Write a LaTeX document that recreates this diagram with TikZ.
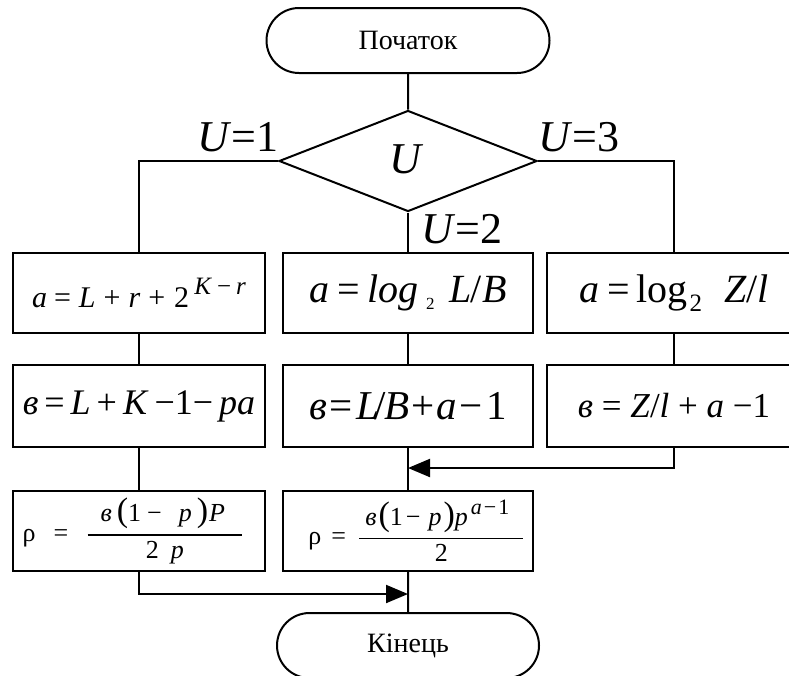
\documentclass[tikz,border=0pt]{standalone}
\usepackage{amsmath}
\usepackage{fontspec}
\setmainfont{Liberation Serif}
\usetikzlibrary{arrows.meta,shapes.geometric,shapes.misc}
\newcommand{\fs}[1]{\fontsize{#1}{#1}\selectfont}
\tikzset{
  box/.style={draw, line width=2pt, minimum width=252pt, minimum height=80pt, inner sep=0pt},
  term/.style={draw, line width=2pt, rounded rectangle, minimum width=283pt, minimum height=65pt, inner sep=0pt, font=\fs{28}},
  conn/.style={line width=2pt},
  arr/.style={conn, -{Triangle[length=22pt,width=18pt]}},
  lbl/.style={inner sep=0pt, anchor=base, font=\fs{44}},
}
\begin{document}
\begin{tikzpicture}[x=1pt,y=-1pt]
\path[use as bounding box] (0,0) rectangle (789,675);
\clip (0,0) rectangle (789,675);
% nodes
\node[term] (start) at (408,40.5) {Початок};
\node[draw, line width=2pt, diamond, minimum width=258pt, minimum height=101pt, inner sep=0pt, aspect=2.55] (dec) at (408,161) {};
\node[lbl] (u) at (407,173) {\textit{U}};
\node[box] (b11) at (139,293) {\fs{30}\textit{a}\hspace{7pt}=\hspace{8pt}\textit{L}\hspace{8pt}+\hspace{8pt}\textit{r}\hspace{8pt}+\hspace{9pt}2\hspace{5pt}\raisebox{13pt}{\fs{25}\textit{K}\hspace{5pt}−\hspace{5pt}\textit{r}}};
\node[box, minimum width=250pt] (b12) at (408,293) {\fs{40}\textit{a}\hspace{8pt}=\hspace{7pt}\textit{log}\hspace{8pt}\raisebox{-7pt}{\fs{17}2}\hspace{15pt}\textit{L}\kern-1pt/\textit{B}};
\node[box, minimum width=254pt] (b13) at (674,293) {\fs{40}\textit{a}\hspace{8pt}=\hspace{7pt}log\hspace{2pt}\raisebox{-9pt}{\fs{25}2}\hspace{22pt}\textit{Z}/\textit{l}};
\node[box, minimum height=82pt] (b21) at (139,406) {\fs{36}\textit{в}\,=\,\textit{L}\,+\,\textit{K}\,−1−\,\textit{pa}};
\node[box, minimum width=250pt, minimum height=82pt] (b22) at (408,406) {\fs{41}\textit{в}\kern2pt=\kern4pt\textit{L}\kern-5pt/\kern-1pt\textit{B}\kern2pt+\kern2pt\textit{a}\kern2pt−\kern4pt1};
\node[box, minimum width=254pt, minimum height=82pt] (b23) at (674,406) {\fs{35}\textit{в} = \textit{Z}/\textit{l} + \textit{a} −1};
\node[box] (b31) at (139,531) {\fs{26}ρ\hspace{18pt}=\hspace{18pt}$\genfrac{}{}{1.6pt}{0}{\hbox{\fs{26}\hspace{13pt}\textit{в}\hspace{5pt}{\fs{34}(}1\hspace{6pt}−\hspace{17pt}\textit{p}\hspace{5pt}{\fs{34})}\hspace{1pt}\textit{P}\hspace{17pt}}}{\hbox{\fs{26}2\hspace{12pt}\textit{p}}}$\kern12pt\null};
\node[box, minimum width=250pt] (b32) at (408,531) {\fs{26}\hspace{17pt}ρ\hspace{10pt}=\hspace{12pt}$\genfrac{}{}{1.6pt}{0}{\hbox{\fs{26}\hspace{6pt}\textit{в}\hspace{2pt}{\fs{34}(}1\hspace{3pt}−\hspace{8pt}\textit{p}\hspace{2pt}{\fs{34})}\textit{p}\hspace{3pt}\raisebox{11pt}{\fs{22}\textit{a}\kern2pt−\kern2pt1}\hspace{14pt}}}{\hbox{\fs{26}2}}$};
\node[term, minimum width=262pt] (end) at (408,645.5) {Кінець};
% labels
\node[lbl] (l1) at (238,151) {\textit{U}=1};
\node[lbl] (l3) at (579,151) {\textit{U}=3};
\node[lbl] (l2) at (462,243) {\textit{U}=2};
% junctions
\coordinate (j1) at (408,468);
\coordinate (j2) at (408,594);
% connectors
\draw[conn] (start) -- (dec);
\draw[conn] (dec.west) -| (b11.north);
\draw[conn] (dec.east) -| (b13.north);
\draw[conn] (dec.south) -- (b12.north);
\draw[conn] (b11) -- (b21);
\draw[conn] (b21) -- (b31);
\draw[conn] (b12) -- (b22);
\draw[conn] (b13) -- (b23);
\draw[conn] (b22) -- (b32);
\draw[conn] (b32) -- (end);
\draw[arr] (b23.south) |- (j1);
\draw[arr] (b31.south) |- (j2);
\end{tikzpicture}
\end{document}
